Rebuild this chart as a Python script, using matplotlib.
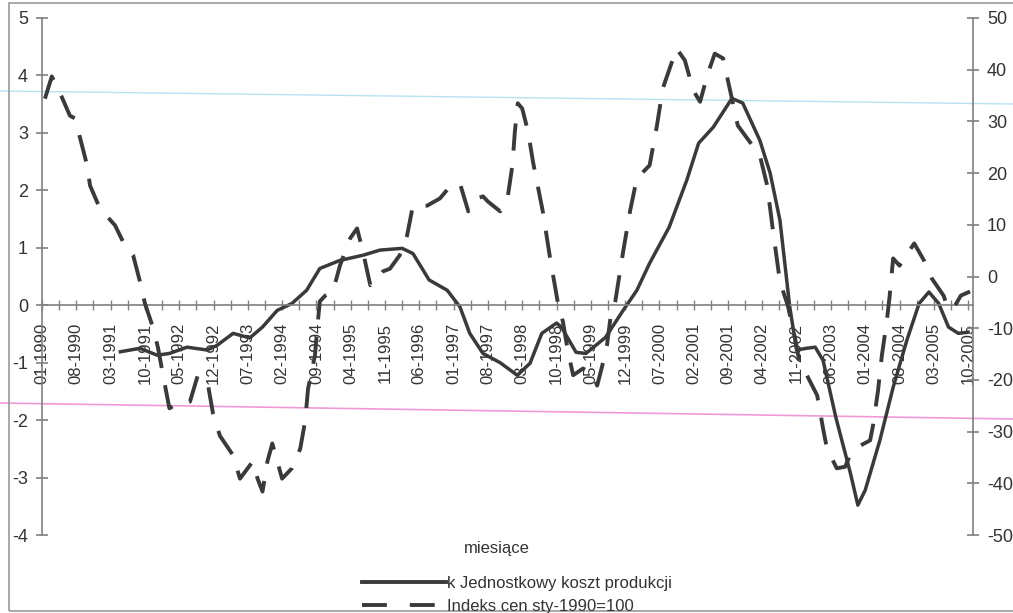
import numpy as np
import matplotlib
matplotlib.use("Agg")
import matplotlib.pyplot as plt
from matplotlib.lines import Line2D
from matplotlib.patches import Rectangle

plt.rcParams['font.family'] = ['Liberation Sans', 'DejaVu Sans']
plt.rcParams['axes.unicode_minus'] = False

# ===================== DANE =====================
# indeks miesiąca liczony od 01-1990 (0 = styczeń 1990)
miesiace_koszt = [16, 20, 23.5, 26, 29.6, 33.7, 35.7, 39, 42.4, 45, 48, 51, 54, 56.7,
                  60.8, 65.5, 69, 73.5, 75.7, 79, 82.7, 85.3, 87.3, 90, 93.5, 97, 99.6,
                  102, 105, 106, 109, 111, 115, 118.6, 121.4, 124, 128, 131.6, 134, 137,
                  140.8, 143, 146.5, 148.6, 150.6, 152.6, 154, 156, 157.8, 159.4, 162,
                  165, 166.5, 168, 171, 173.7, 176.5, 179, 181, 183, 185, 187, 189]
koszt = [-0.81, -0.75, -0.87, -0.84, -0.73, -0.78, -0.70, -0.49, -0.57, -0.38, -0.09,
         0.03, 0.26, 0.64, 0.78, 0.87, 0.96, 0.99, 0.90, 0.44, 0.26, -0.03, -0.49, -0.84,
         -1.0, -1.22, -1.01, -0.49, -0.31, -0.38, -0.82, -0.84, -0.56, -0.09, 0.26, 0.73,
         1.36, 2.18, 2.82, 3.1, 3.6, 3.52, 2.87, 2.3, 1.48, -0.03, -0.78, -0.75, -0.73,
         -0.96, -1.95, -2.93, -3.48, -3.22, -2.35, -1.43, -0.61, 0.03, 0.23, 0.03, -0.38,
         -0.49, -0.47]

miesiace_ceny = [0.6, 2, 4, 5.7, 6.7, 7.8, 9.2, 9.8, 11.8, 14.9, 16.5, 18.6, 20, 21,
                 22.7, 23.7, 24.7, 25.5, 26, 27.6, 30.2, 31.8, 33.9, 34.9, 36.3, 39, 40.4,
                 43, 44, 45, 46, 47, 49, 51, 52.7, 53.7, 54.3, 55.7, 56.3, 56.7, 57.8, 59.4,
                 59.8, 60.8, 62.9, 64.3, 65.5, 67, 69.6, 71, 73, 74.5, 75.7, 78.6, 81.2,
                 82.9, 85.3, 87, 88.8, 90, 91, 93.5, 95, 96, 96.5, 97.1, 98, 99.2, 100.2,
                 102.2, 103.7, 105.3, 106.3, 107.3, 108.4, 110.4, 112.4, 113.3, 114.3,
                 115.3, 116, 117, 118.6, 120, 121.4, 124, 125.5, 126.7, 128.2, 129.5,
                 131.2, 132.9, 134.3, 135.9, 137.3, 139, 139.8, 142, 146.5, 148, 149.2,
                 150.6, 152.2, 153.7, 154.7, 156.1, 158.2, 159.4, 160.2, 162.2, 163.9,
                 164.9, 167, 169, 169.6, 170.6, 171.4, 172.4, 173, 173.7, 175, 178, 180,
                 181.6, 184, 184.9, 186, 187.5, 189.4]
ceny = [34.4, 38.7, 34.8, 31.1, 30.6, 26.7, 21.5, 17.6, 13.2, 9.9, 6.8, 4.1, -1.0, -5.2,
        -10, -13.9, -19.1, -23, -25.5, -24.6, -24.2, -19.1, -21.1, -26.5, -30.8, -34.6,
        -39.1, -35.8, -39.1, -41.6, -35.8, -32.3, -39.1, -37.1, -33.3, -28, -21.7, -15.3,
        -8.7, -4.8, -3.7, -2.9, -1.4, 2.1, 7.4, 9.3, 4.8, -1.7, 1.0, 1.5, 4.1, 7.9, 13.7,
        13.7, 15.1, 17, 18, 12.6, 15.1, 15.5, 14.5, 12.6, 15.1, 21.5, 28, 33.5, 32.5, 28,
        22.2, 12.6, 3.5, -5.2, -8.7, -14.3, -19.1, -17.8, -18.8, -21.1, -17.4, -13.3,
        -8.1, -4.8, 4.8, 12.6, 19, 21.5, 29.2, 36.4, 40.5, 44.1, 41.8, 36, 33.8, 39.3,
        43.1, 42.2, 38.7, 29.2, 23.4, 17.6, 8.7, -1.0, -5.6, -12, -17.2, -19.1, -23,
        -29.4, -33.3, -37.1, -36.8, -34.6, -32.7, -31.7, -28.8, -22.2, -15.3, -8.7, -3.7,
        3.5, 2.1, 6.4, 3.1, -0.4, -3.7, -6.2, -6.2, -3.7, -2.9]

etykiety_x = ['01-1990', '08-1990', '03-1991', '10-1991', '05-1992', '12-1992', '07-1993',
              '02-1994', '09-1994', '04-1995', '11-1995', '06-1996', '01-1997', '08-1997',
              '03-1998', '10-1998', '05-1999', '12-1999', '07-2000', '02-2001', '09-2001',
              '04-2002', '11-2002', '06-2003', '01-2004', '08-2004', '03-2005', '10-2005']

# ===================== WYKRES =====================
kolor_linii = '#3a3a3a'
kolor_osi = '#808080'
kolor_tekstu = '#333333'

fig = plt.figure(figsize=(10.13, 6.13), dpi=100)
fig.patch.set_facecolor('white')

# ramka wykresu i linie na kartce
fig.add_artist(Rectangle((9 / 1013, 2 / 613), 1.0, 608 / 613, transform=fig.transFigure,
                         fill=False, edgecolor='#9a9a9a', lw=1.2))
fig.add_artist(Line2D([0, 1], [1 - 91 / 613, 1 - 104 / 613], transform=fig.transFigure,
                      color='#b8e2f2', lw=1.0, zorder=0))
fig.add_artist(Line2D([0, 1], [1 - 403 / 613, 1 - 419 / 613], transform=fig.transFigure,
                      color='#ef9ad6', lw=1.2, zorder=0))

ax = fig.add_axes([42 / 1013, 1 - 535 / 613, (973 - 42) / 1013, (535 - 18) / 613])
ax.set_facecolor('none')
ax2 = ax.twinx()

# oś X przecina oś Y w zerze (przed ustawieniem etykiet, bo resetuje ticki)
ax.spines['bottom'].set_position(('data', 0))
ax.spines['top'].set_visible(False)
ax.spines['right'].set_visible(False)
ax2.spines['top'].set_visible(False)
ax2.spines['bottom'].set_visible(False)
ax2.spines['left'].set_visible(False)
for sp in [ax.spines['left'], ax.spines['bottom'], ax2.spines['right']]:
    sp.set_color(kolor_osi)
    sp.set_linewidth(1.2)

ax.plot(miesiace_koszt, koszt, color=kolor_linii, lw=2.5, solid_joinstyle='round')
ax2.plot(miesiace_ceny, ceny, color=kolor_linii, lw=2.8, dashes=(7, 4.5),
         dash_capstyle='butt')

ax.set_xlim(0, 190)
ax.set_ylim(-4, 5)
ax2.set_ylim(-50, 50)

ax.set_yticks(range(-4, 6))
ax2.set_yticks(range(-50, 51, 10))
ax.set_xticks(np.arange(0, 190, 7))
ax.set_xticklabels(etykiety_x)
ax.set_xticks(np.arange(3.5, 190, 7), minor=True)

ax.tick_params(axis='y', direction='inout', length=8, width=1.2, color=kolor_osi,
               labelsize=13, labelcolor=kolor_tekstu, pad=6)
ax2.tick_params(axis='y', direction='inout', length=8, width=1.2, color=kolor_osi,
                labelsize=13, labelcolor=kolor_tekstu, pad=6)
ax.tick_params(axis='x', which='both', direction='inout', length=7, width=1.0,
               color=kolor_osi, labelsize=12, labelcolor=kolor_tekstu, pad=9,
               labelrotation=90)

fig.text(497 / 1013, 1 - 548 / 613, 'miesiące', ha='center', va='center',
         fontsize=12, color=kolor_tekstu)

uchwyty = [Line2D([], [], color=kolor_linii, lw=2.8),
           Line2D([], [], color=kolor_linii, lw=2.8, dashes=(6.4, 5.9))]
fig.legend(uchwyty, ['k Jednostkowy koszt produkcji', 'Indeks cen sty-1990=100'],
           loc='center left', bbox_to_anchor=(354 / 1013, 1 - 595 / 613), frameon=False,
           fontsize=12, handlelength=5.0, handletextpad=0.1, labelspacing=0.5,
           labelcolor=kolor_tekstu, borderpad=0)

fig.savefig('out.png', dpi=100, facecolor='white')
